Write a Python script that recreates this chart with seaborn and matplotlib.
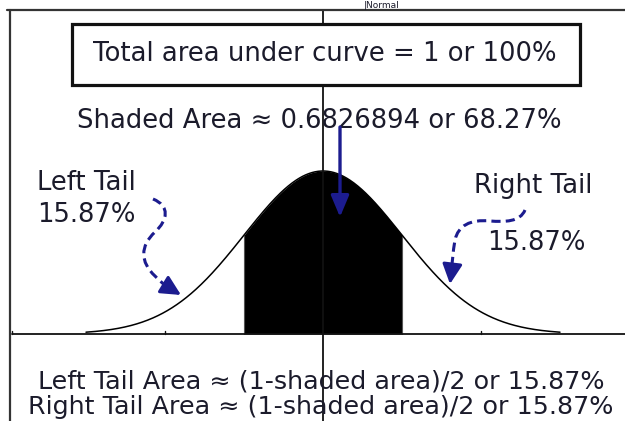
import numpy as np
import pandas as pd
import matplotlib
matplotlib.use("Agg")
import matplotlib.pyplot as plt
import matplotlib.transforms as mtransforms
from matplotlib.patches import Rectangle, PathPatch, FancyArrowPatch
from matplotlib.path import Path
import seaborn as sns

# Standard normal curve, shaded within one standard deviation
mean = 0.0
sd = 1.0
curve_range = [-3.0, 3.0]
shaded_range = [-1.0, 1.0]
tick_positions = [-2.0, 2.0]

title_text = "Total area under curve = 1 or 100%"
shaded_text = "Shaded Area \u2248 0.6826894 or 68.27%"
left_label = ["Left Tail", "15.87%"]
right_label = ["Right Tail", "15.87%"]
footer_lines = [
    "Left Tail Area \u2248 (1-shaded area)/2 or 15.87%",
    "Right Tail Area \u2248 (1-shaded area)/2 or 15.87%",
]
header_text = "|Normal"

W, H = 625, 421
TEXT = "#1b1b2b"
NAVY = "#1c1c8f"
FS = 18.6
FS_FOOT = 18.3

sns.set_style("white")
plt.rcParams["font.family"] = ["DejaVu Sans"]

z = np.linspace(curve_range[0], curve_range[1], 601)
density = np.exp(-0.5 * ((z - mean) / sd) ** 2) / (sd * np.sqrt(2 * np.pi))
curve = pd.DataFrame({"z": z, "density": density})
inside = curve[(curve.z >= shaded_range[0]) & (curve.z <= shaded_range[1])]

fig = plt.figure(figsize=(W / 100, H / 100), dpi=100)
ax = fig.add_axes([0, 0, 1, 1])

# pixel transform (origin at top-left) for annotations and frame
pix = mtransforms.Affine2D().scale(1 / W, -1 / H).translate(0, 1) + fig.transFigure

# axis scaling: centre at x=323px, 79px per sd; baseline at y=334px
x0, sx = 323.0, 79.0
y0, sy = 334.0, 163.0 / density.max()
ax.set_xlim(-x0 / sx, (W - x0) / sx)
ax.set_ylim(-(H - y0) / sy, y0 / sy)
ax.axis("off")

# shaded central region
ax.fill_between(inside.z, 0, inside.density, color="black", lw=0, zorder=2)
for b in shaded_range:
    dens_b = np.exp(-0.5 * ((b - mean) / sd) ** 2) / (sd * np.sqrt(2 * np.pi))
    ax.plot([b, b], [0, dens_b], color="#555555", lw=0.8, zorder=2)

sns.lineplot(data=curve, x="z", y="density", ax=ax, color="black", lw=1.1,
             zorder=3, legend=False)

# baseline and centre line
ax.plot([(12 - x0) / sx, (W - x0) / sx], [0, 0], color="#111111", lw=1.3, zorder=4)
for t in tick_positions:
    ax.plot([t, t], [0, 3 / sy], color="#111111", lw=1.0, zorder=4)
ax.plot([(12 - x0) / sx] * 2, [0, 3 / sy], color="#111111", lw=1.0, zorder=4)
ax.plot([mean, mean], [-(H - y0) / sy, (y0 - 10) / sy], color="#111111", lw=1.3, zorder=4)

# frame lines on top and left
fig.add_artist(plt.Line2D([7, W], [10, 10], transform=pix, color="#333333", lw=1.6))
fig.add_artist(plt.Line2D([9.5, 9.5], [10, H], transform=pix, color="#333333", lw=1.6))

# heading box
fig.add_artist(Rectangle((74, 26), 508, 61, transform=pix, facecolor="#bbbbbb",
                         edgecolor="none", zorder=5))
fig.add_artist(Rectangle((72, 24), 508, 61, transform=pix, facecolor="white",
                         edgecolor="#111111", lw=2.3, zorder=6))
fig.text(325 / W, 1 - 54 / H, title_text, ha="center", va="center",
         fontsize=FS, color=TEXT, zorder=7)

fig.text(319 / W, 1 - 121 / H, shaded_text, ha="center", va="center",
         fontsize=FS, color=TEXT, zorder=7)

fig.text(364 / W, 1 - 7.5 / H, header_text, ha="left", va="baseline",
         fontsize=6.5, color=TEXT, zorder=7)

# tail labels
fig.text(37 / W, 1 - 183 / H, left_label[0], ha="left", va="center", fontsize=FS, color=TEXT)
fig.text(37 / W, 1 - 215 / H, left_label[1], ha="left", va="center", fontsize=FS, color=TEXT)
fig.text(474 / W, 1 - 186 / H, right_label[0], ha="left", va="center", fontsize=FS, color=TEXT)
fig.text(487 / W, 1 - 243 / H, right_label[1], ha="left", va="center", fontsize=FS, color=TEXT)

# footer
fig.text(321 / W, 1 - 381 / H, footer_lines[0], ha="center", va="center", fontsize=FS_FOOT, color=TEXT)
fig.text(321 / W, 1 - 407 / H, footer_lines[1], ha="center", va="center", fontsize=FS_FOOT, color=TEXT)

# centre arrow pointing at the shaded area
fig.add_artist(FancyArrowPatch((340, 127), (340, 217), transform=pix,
                               arrowstyle="-|>,head_length=1.0,head_width=0.42",
                               mutation_scale=13, color=NAVY, lw=2.4,
                               shrinkA=0, shrinkB=0, zorder=8))

# curly dashed arrows towards the tails
def curly(points, codes, tip_from, tip_to):
    p = PathPatch(Path(points, codes), transform=pix, facecolor="none",
                  edgecolor=NAVY, lw=2.2, linestyle=(0, (3.0, 1.7)), zorder=8)
    fig.add_artist(p)
    fig.add_artist(FancyArrowPatch(tip_from, tip_to, transform=pix,
                                   arrowstyle="-|>,head_length=1.0,head_width=0.5",
                                   mutation_scale=12, color=NAVY, lw=2.2,
                                   shrinkA=0, shrinkB=0, zorder=8))

C = Path.CURVE4
curly([(153, 199), (170, 206), (168, 220), (155, 232),
       (140, 246), (140, 262), (155, 276),
       (160, 281), (164, 285), (168, 287)],
      [Path.MOVETO, C, C, C, C, C, C, C, C, C],
      (167, 286.5), (181, 295))

curly([(525, 210), (520, 222), (505, 222), (490, 221),
       (470, 219), (458, 226), (455, 240),
       (453, 252), (452, 262), (452, 268)],
      [Path.MOVETO, C, C, C, C, C, C, C, C, C],
      (452, 267), (450, 284))

fig.savefig("out.png", dpi=100, facecolor="white")
